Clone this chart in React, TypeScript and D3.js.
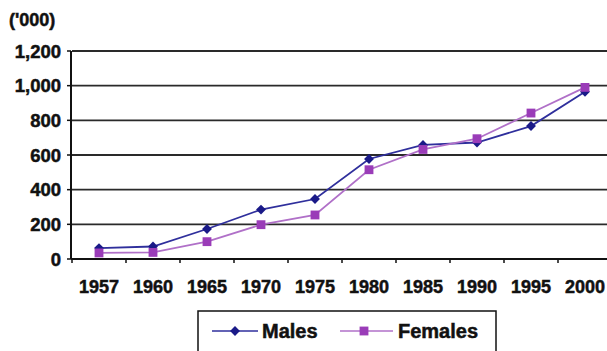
import React from "react";
import * as d3 from "d3";

// Population by sex, thousands
const years = ["1957", "1960", "1965", "1970", "1975", "1980", "1985", "1990", "1995", "2000"];
const males = [63, 72, 173, 285, 346, 577, 658, 672, 767, 965];
const females = [35, 38, 100, 198, 254, 515, 632, 694, 842, 990];
const yTicks = [0, 200, 400, 600, 800, 1000, 1200];

const W = 607;
const H = 351;
const FONT = "'Liberation Sans', Arial, sans-serif";
const MALE = "#1a1a88";
const MALE_LINE = "#2f2f9c";
const FEMALE = "#9a3cb8";
const FEMALE_LINE = "#b070c8";

// slightly heavier lettering
const ink = { fill: "#111", stroke: "#111", strokeWidth: 0.5 } as const;

export default function App() {
  const x = d3.scaleBand<string>().domain(years).range([72, 612]).padding(0);
  const y = d3.scaleLinear().domain([0, 1200]).range([259, 51]);
  const cx = (d: string) => (x(d) ?? 0) + x.bandwidth() / 2;
  const line = d3
    .line<number>()
    .x((_, i) => cx(years[i]))
    .y((v) => y(v));
  const fmt = d3.format(",");
  const diamond = d3.symbol().type(d3.symbolDiamond2).size(62)();
  const square = d3.symbol().type(d3.symbolSquare).size(78)();
  const boundaries = d3.range(years.length + 1).map((i) => 72 + i * x.bandwidth());

  return (
    <svg
      width={W}
      height={H}
      style={{ position: "absolute", left: 0, top: 0, background: "#fff" }}
      fontFamily={FONT}
    >
      <rect width={W} height={H} fill="#fff" />
      {/* gridlines */}
      {yTicks.slice(1).map((t) => (
        <line key={t} x1={72} x2={W} y1={y(t)} y2={y(t)} stroke="#2a2a2a" strokeWidth={1.8} />
      ))}
      {/* y axis */}
      <line x1={71} x2={71} y1={y(1200)} y2={y(0)} stroke="#111" strokeWidth={2} />
      {yTicks.map((t) => (
        <g key={t}>
          <line x1={67} x2={71} y1={y(t)} y2={y(t)} stroke="#111" strokeWidth={1.5} />
          <text x={61} y={y(t) + 6.5} textAnchor="end" fontSize={18.5} fontWeight="bold" {...ink}>
            {fmt(t)}
          </text>
        </g>
      ))}
      <text x={9} y={26} fontSize={18} fontWeight="bold" {...ink}>
        ('000)
      </text>
      {/* x axis */}
      <line x1={71} x2={W} y1={y(0)} y2={y(0)} stroke="#111" strokeWidth={2} />
      {boundaries.map((b, i) => (
        <line key={i} x1={b} x2={b} y1={y(0)} y2={y(0) + 4} stroke="#111" strokeWidth={1.5} />
      ))}
      {years.map((yr) => (
        <text key={yr} x={cx(yr)} y={293} textAnchor="middle" fontSize={18} fontWeight="bold" {...ink}>
          {yr}
        </text>
      ))}
      {/* series */}
      <path d={line(males) ?? ""} fill="none" stroke={MALE_LINE} strokeWidth={1.8} />
      <path d={line(females) ?? ""} fill="none" stroke={FEMALE_LINE} strokeWidth={1.8} />
      {males.map((v, i) => (
        <path key={"m" + i} d={diamond ?? ""} transform={`translate(${cx(years[i])},${y(v)})`} fill={MALE} />
      ))}
      {females.map((v, i) => (
        <path key={"f" + i} d={square ?? ""} transform={`translate(${cx(years[i])},${y(v)})`} fill={FEMALE} />
      ))}
      {/* legend */}
      <rect x={198} y={311} width={298} height={44} fill="#fff" stroke="#111" strokeWidth={1.5} />
      <line x1={212} x2={258} y1={331} y2={331} stroke={MALE_LINE} strokeWidth={1.6} />
      <path d={diamond ?? ""} transform="translate(235,331)" fill={MALE} />
      <text x={262} y={338} fontSize={20} fontWeight="bold" {...ink}>
        Males
      </text>
      <line x1={340} x2={393} y1={331} y2={331} stroke={FEMALE_LINE} strokeWidth={1.6} />
      <path d={square ?? ""} transform="translate(364,331)" fill={FEMALE} />
      <text x={398} y={338} fontSize={20} fontWeight="bold" {...ink}>
        Females
      </text>
    </svg>
  );
}
